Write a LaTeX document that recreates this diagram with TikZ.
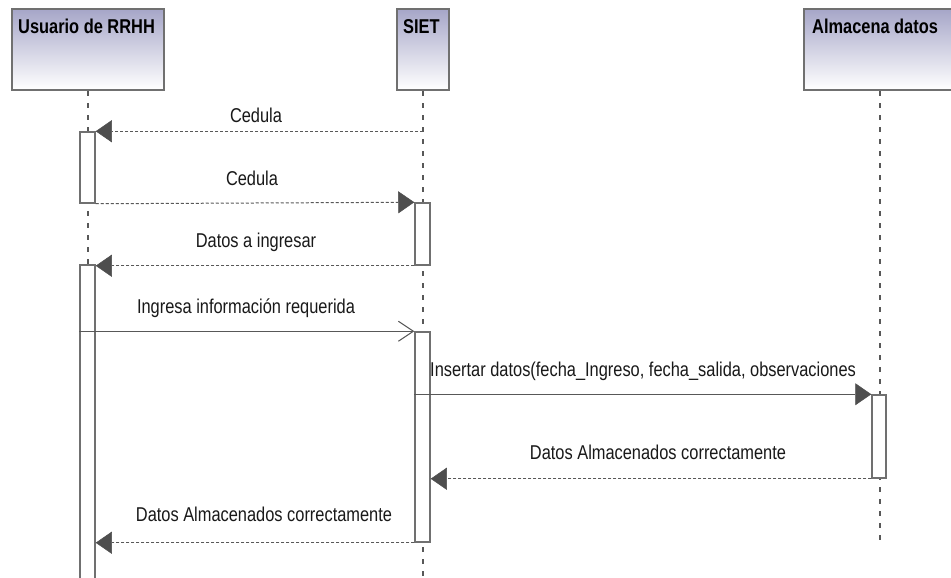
\documentclass[tikz,border=0pt]{standalone}
\usepackage{fontspec}
\setmainfont{Liberation Sans}[FakeStretch=0.82]
\usetikzlibrary{arrows.meta}
\definecolor{boxtop}{RGB}{166,166,200}
\definecolor{edgeg}{RGB}{112,112,112}
\definecolor{lineg}{RGB}{88,88,88}
\definecolor{headg}{RGB}{78,78,78}
\begin{document}
\begin{tikzpicture}[x=1pt,y=-1pt,
  lifebox/.style={draw=edgeg, line width=2pt, top color=boxtop, bottom color=white, minimum height=81pt, inner sep=0pt},
  titletext/.style={font=\bfseries\fontsize{20}{24}\selectfont, anchor=base west, inner sep=0pt, text=black},
  msglabel/.style={font=\fontsize{20}{24}\selectfont, anchor=base, inner sep=0pt, text=black!90},
  lifeline/.style={draw=lineg, line width=2pt, dash pattern=on 5pt off 7pt},
  actbox/.style={draw=edgeg, line width=1.5pt, fill=white, minimum width=15pt, inner sep=0pt},
  filledtip/.style={-{Triangle[length=16pt,width=22pt,fill=headg,color=headg,line width=0.5pt]}},
  callmsg/.style={draw=lineg, line width=1.3pt},
  retmsg/.style={draw=lineg, line width=1pt, dash pattern=on 3pt off 2pt},
  opentip/.style={-{Straight Barb[length=15pt,width=20pt,line width=1pt,color=lineg]}}
]
\useasboundingbox (0,0) rectangle (951,578);
\clip (0,0) rectangle (951,578);
\fill[white] (0,0) rectangle (951,578);

% lifeline heads
\node[lifebox, minimum width=152pt] (usr) at (88,49.5) {};
\node[lifebox, minimum width=52pt] (siet) at (423,49.5) {};
\node[lifebox, minimum width=152pt] (alm) at (880,49.5) {};
\node[titletext] (tusr) at (18,34) {Usuario de RRHH};
\node[titletext] (tsiet) at (403,34) {SIET};
\node[titletext] (talm) at (812,34) {Almacena datos};

% lifelines
\coordinate (usrend) at (88,595);
\coordinate (sietend) at (423,595);
\coordinate (almend) at (880,544);
\draw[lifeline] (usr.south) -- (usrend);
\draw[lifeline] (siet.south) -- (sietend);
\draw[lifeline] (alm.south) -- (almend);

% activations
\node[actbox, minimum height=71pt] (u1) at (87.5,167.5) {};
\node[actbox, minimum height=340pt] (u2) at (87.5,435) {};
\node[actbox, minimum height=62pt] (s1) at (422.5,234) {};
\node[actbox, minimum height=210pt] (s2) at (422.5,437) {};
\node[actbox, minimum height=83pt, minimum width=14pt] (a1) at (879,436.5) {};

% messages
\draw[retmsg, filledtip] (siet.south |- u1.north) -- (u1.north east);
\draw[retmsg, filledtip] (u1.south east) -- (s1.north west);
\draw[retmsg, filledtip] (s1.south west) -- (u2.north east |- s1.south);
\draw[callmsg, opentip] (u2.west |- s2.north) -- (s2.north west);
\draw[callmsg, filledtip] (s2.west |- a1.north) -- (a1.north west);
\draw[retmsg, filledtip] (a1.south west) -- (s2.east |- a1.south);
\draw[retmsg, filledtip] (s2.south west) -- (u2.east |- s2.south);

% labels
\node[msglabel] (l1) at (256,122) {Cedula};
\node[msglabel] (l2) at (252,185) {Cedula};
\node[msglabel] (l3) at (256,247) {Datos a ingresar};
\node[msglabel] (l4) at (246,313) {Ingresa información requerida};
\node[msglabel, anchor=base west] (l5) at (430,376) {Insertar datos(fecha\_Ingreso, fecha\_salida, observaciones};
\node[msglabel] (l6) at (658,459) {Datos Almacenados correctamente};
\node[msglabel] (l7) at (264,521) {Datos Almacenados correctamente};
\end{tikzpicture}
\end{document}
